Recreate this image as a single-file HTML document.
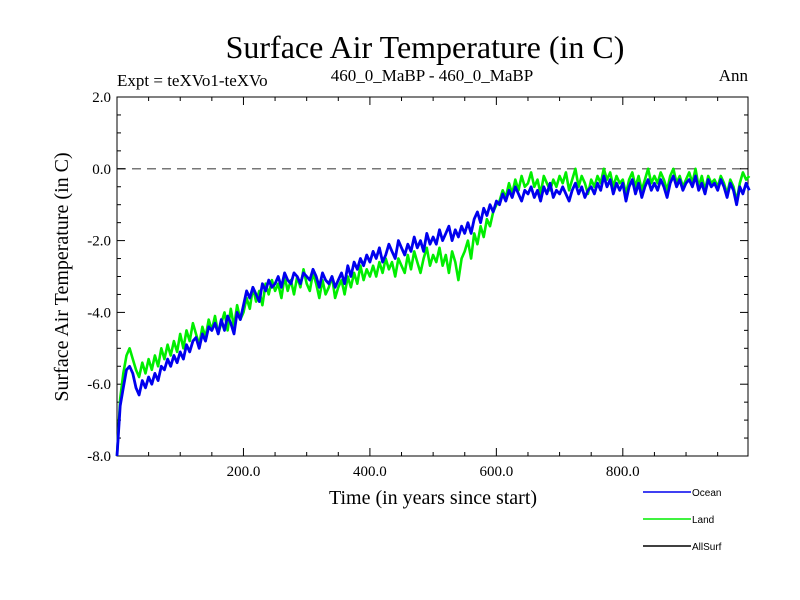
<!DOCTYPE html>
<html><head><meta charset="utf-8"><style>body{margin:0;background:#fff}svg{display:block}</style></head>
<body>
<svg id="chart" width="800" height="600" xmlns="http://www.w3.org/2000/svg" font-family="'Liberation Serif', serif">
<rect width="800" height="600" fill="#fff"/>
<text x="425" y="58" font-size="32" text-anchor="middle">Surface Air Temperature (in C)</text>
<text x="117" y="86" font-size="17">Expt = teXVo1-teXVo</text>
<text x="432" y="81" font-size="17" text-anchor="middle">460_0_MaBP - 460_0_MaBP</text>
<text x="748" y="81" font-size="17" text-anchor="end">Ann</text>
<text transform="translate(68,277) rotate(-90)" font-size="20" text-anchor="middle">Surface Air Temperature (in C)</text>
<text x="433" y="504" font-size="20" text-anchor="middle">Time (in years since start)</text>
<g id="axes"></g>
<g id="series"></g>
<g id="legend" font-family="'Liberation Sans', sans-serif" font-size="10"></g>
</svg>
<script>
const years0 = 0, yearStep = 5;
const ocean = [-8.0,-6.6,-6.1,-5.6,-5.5,-5.7,-6.1,-6.3,-5.9,-6.1,-5.8,
-6.0,-5.7,-5.9,-5.5,-5.6,-5.3,-5.5,-5.2,-5.4,-5.1,
-5.3,-4.9,-5.1,-4.8,-4.7,-5.0,-4.6,-4.8,-4.4,-4.5,
-4.3,-4.6,-4.2,-4.5,-4.1,-4.3,-4.6,-4.0,-4.2,-3.8,
-3.4,-3.6,-3.3,-3.5,-3.7,-3.2,-3.4,-3.1,-3.3,-3.2,
-3.0,-3.3,-2.9,-3.1,-3.2,-2.9,-3.0,-3.2,-2.9,-3.0,
-3.1,-2.8,-3.0,-3.3,-2.9,-3.1,-3.2,-3.0,-3.3,-3.1,
-2.9,-3.2,-2.7,-3.0,-2.6,-2.8,-2.5,-2.7,-2.4,-2.6,
-2.3,-2.5,-2.2,-2.6,-2.4,-2.1,-2.3,-2.5,-2.0,-2.2,
-2.4,-2.1,-2.3,-1.9,-2.2,-2.0,-2.3,-1.8,-2.1,-1.9,
-2.1,-1.7,-2.0,-1.8,-1.6,-2.0,-1.7,-1.9,-1.6,-1.8,
-1.5,-1.8,-1.4,-1.2,-1.5,-1.1,-1.3,-1.0,-1.2,-0.9,
-1.0,-0.7,-0.9,-0.6,-0.8,-0.5,-0.7,-0.9,-0.6,-0.7,
-0.5,-0.8,-0.6,-0.9,-0.5,-0.7,-0.4,-0.8,-0.6,-0.7,
-0.5,-0.7,-0.9,-0.6,-0.4,-0.7,-0.5,-0.8,-0.6,-0.5,
-0.7,-0.4,-0.6,-0.2,-0.5,-0.3,-0.7,-0.4,-0.6,-0.4,
-0.9,-0.5,-0.3,-0.7,-0.4,-0.8,-0.5,-0.3,-0.6,-0.4,
-0.6,-0.3,-0.5,-0.8,-0.4,-0.2,-0.5,-0.3,-0.6,-0.4,
-0.3,-0.5,-0.2,-0.6,-0.4,-0.7,-0.3,-0.5,-0.4,-0.6,
-0.3,-0.5,-0.8,-0.4,-0.6,-1.0,-0.5,-0.7,-0.4,-0.6];
const land = [-8.0,-6.4,-5.7,-5.2,-5.0,-5.3,-5.6,-5.8,-5.4,-5.7,-5.3,
-5.6,-5.2,-5.5,-5.0,-5.3,-4.9,-5.2,-4.8,-5.1,-4.6,
-5.0,-4.5,-4.8,-4.3,-4.6,-4.9,-4.4,-4.7,-4.2,-4.5,
-4.1,-4.6,-4.3,-4.0,-4.5,-3.9,-4.4,-3.8,-4.2,-4.0,
-3.6,-3.9,-3.3,-3.7,-3.4,-3.8,-3.2,-3.5,-3.1,-3.4,
-3.2,-3.6,-3.0,-3.4,-3.1,-3.5,-3.0,-3.3,-2.8,-3.2,
-3.4,-2.9,-3.2,-3.6,-3.1,-3.5,-3.3,-3.0,-3.6,-3.3,
-3.1,-3.5,-3.0,-3.3,-2.9,-3.2,-2.7,-3.1,-2.8,-3.0,
-2.7,-3.0,-2.6,-2.9,-2.5,-2.8,-2.6,-3.0,-2.5,-2.7,
-2.9,-2.4,-2.8,-2.3,-2.6,-2.9,-2.5,-2.2,-2.7,-2.4,
-2.6,-2.2,-2.7,-2.4,-2.9,-2.3,-2.6,-3.1,-2.5,-2.3,
-2.0,-2.5,-1.8,-2.1,-1.6,-1.9,-1.4,-1.6,-1.2,-1.0,
-0.9,-0.6,-0.8,-0.4,-0.7,-0.3,-0.6,-0.2,-0.5,-0.4,
-0.1,-0.5,-0.3,-0.7,-0.2,-0.4,-0.6,-0.3,-0.5,-0.2,
-0.4,-0.1,-0.6,-0.3,0.0,-0.5,-0.2,-0.4,-0.7,-0.3,
-0.5,-0.2,-0.4,0.0,-0.3,-0.1,-0.5,-0.2,-0.4,-0.3,
-0.7,-0.3,-0.1,-0.5,-0.2,-0.6,-0.3,0.0,-0.4,-0.2,
-0.4,-0.1,-0.3,-0.6,-0.2,0.0,-0.4,-0.2,-0.5,-0.3,
-0.1,-0.4,0.0,-0.5,-0.2,-0.6,-0.2,-0.4,-0.3,-0.5,
-0.2,-0.4,-0.7,-0.3,-0.5,-0.9,-0.4,-0.1,-0.3,-0.2];
const xTicks = [200, 400, 600, 800];
const xTickLabels = ["200.0", "400.0", "600.0", "800.0"];
const yTicks = [2, 0, -2, -4, -6, -8];
const yTickLabels = ["2.0", "0.0", "-2.0", "-4.0", "-6.0", "-8.0"];
const legendNames = ["Ocean", "Land", "AllSurf"];

const L=117,R=748,T=97,B=456,X0=0,X1=998,Y0=-8,Y1=2;
const NS="http://www.w3.org/2000/svg";
const xs=v=>L+(v-X0)/(X1-X0)*(R-L);
const ys=v=>B-(v-Y0)/(Y1-Y0)*(B-T);
function mk(tag,attrs,parent){const e=document.createElementNS(NS,tag);for(const k in attrs)e.setAttribute(k,attrs[k]);parent.appendChild(e);return e;}
const axes=document.getElementById('axes'),series=document.getElementById('series'),legend=document.getElementById('legend');

const z=mk('line',{x1:L,x2:R,y1:ys(0),y2:ys(0),stroke:'#777','stroke-width':1.5,'stroke-dasharray':'9,6'},axes);



function line(vals,color,w,name){
  let d='';vals.forEach((v,i)=>{d+=(i?'L':'M')+xs(years0+i*yearStep).toFixed(1)+','+ys(v).toFixed(1);});
  const p=mk('path',{d:d,fill:'none',stroke:color,'stroke-width':w,'stroke-linejoin':'round'},series);
  
  
}
line(land,'#00ee00',2.6,'land-series');
line(ocean,'#0000ee',2.8,'ocean-series');

const fr=mk('rect',{x:L,y:T,width:R-L,height:B-T,fill:'none',stroke:'#000','stroke-width':1},axes);


for(let v=50;v<X1;v+=50){const maj=v%200===0;const len=maj?8:4;const x=xs(v);
  mk('line',{x1:x,x2:x,y1:B,y2:B-len,stroke:'#000'},axes);mk('line',{x1:x,x2:x,y1:T,y2:T+len,stroke:'#000'},axes);}
for(let v=-7.5;v<2;v+=0.5){const maj=Math.abs(v%2)<1e-9;const len=maj?8:4;const y=ys(v);
  mk('line',{x1:L,x2:L+len,y1:y,y2:y,stroke:'#000'},axes);mk('line',{x1:R,x2:R-len,y1:y,y2:y,stroke:'#000'},axes);}
xTicks.forEach((v,i)=>{const t=mk('text',{x:xs(v),y:B+20,'font-size':15,'text-anchor':'middle'},axes);t.textContent=xTickLabels[i];
  
  });
yTicks.forEach((v,i)=>{const t=mk('text',{x:L-6,y:ys(v)+5,'font-size':15,'text-anchor':'end'},axes);t.textContent=yTickLabels[i];
  
  });
const lc=['#0000ee','#00ee00','#000'];
legendNames.forEach((n,i)=>{const y=492+i*27;
  const g=mk('g',{},legend);
  
  
  mk('line',{x1:643,x2:691,y1:y,y2:y,stroke:lc[i],'stroke-width':1.5},g);
  const t=mk('text',{x:692,y:y+4},g);t.textContent=n;});
</script>
</body></html>
